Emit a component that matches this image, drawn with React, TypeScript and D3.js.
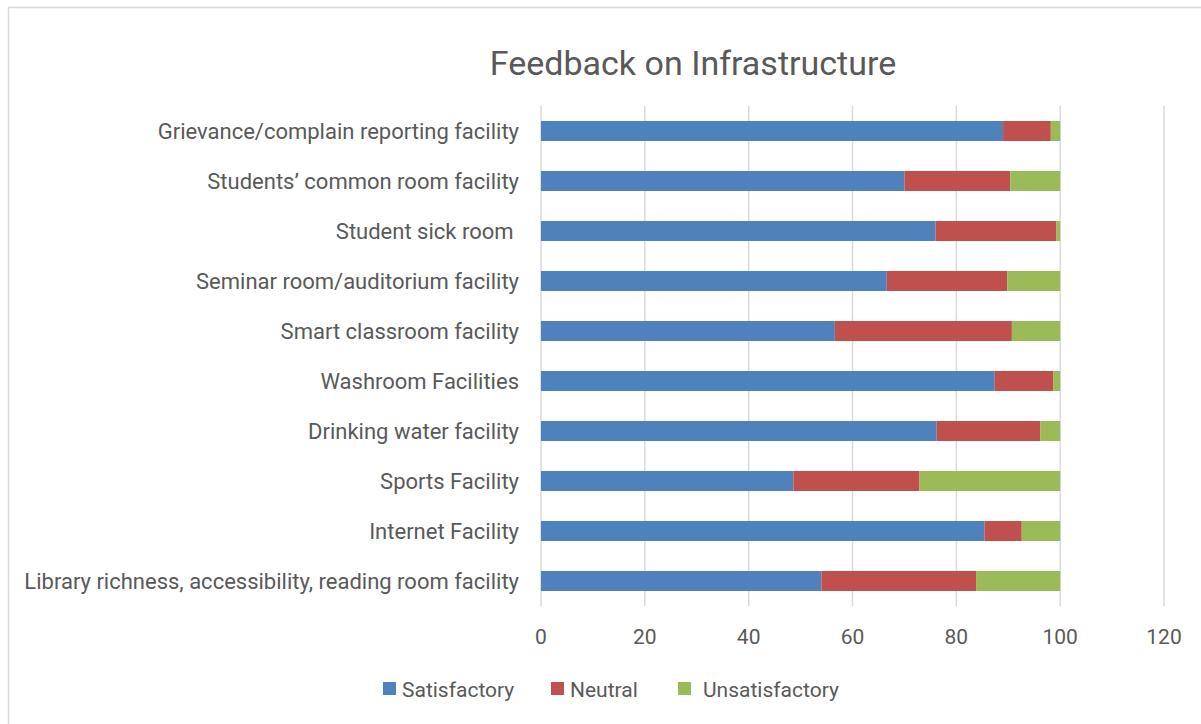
import React, { useEffect, useRef } from 'react';
import * as d3 from 'd3';

// categories top to bottom as shown
const categories = [
  'Grievance/complain reporting facility',
  'Students\u2019 common room facility',
  'Student sick room ',
  'Seminar room/auditorium facility',
  'Smart classroom facility',
  'Washroom Facilities',
  'Drinking water facility',
  'Sports Facility',
  'Internet Facility',
  'Library richness, accessibility, reading room facility',
];

const satisfactory = [89, 70, 76, 66.6, 56.6, 87.4, 76.2, 48.6, 85.4, 54];
const neutral = [9.2, 20.4, 23.3, 23.2, 34.1, 11.3, 20, 24.3, 7.2, 29.8];
const unsatisfactory = [1.8, 9.6, 0.7, 10.2, 9.3, 1.3, 3.8, 27.1, 7.4, 16.2];

const seriesNames = ['Satisfactory', 'Neutral', 'Unsatisfactory'];
const seriesColors = ['#4F81BD', '#C0504D', '#9BBB59'];
const xTicks = [0, 20, 40, 60, 80, 100, 120];

const App: React.FC = () => {
  const svgRef = useRef<SVGSVGElement>(null);

  useEffect(() => {
    if (!svgRef.current) return;

    const width = 1201;
    const height = 724;
    const font = 'Roboto, "Liberation Sans", sans-serif';
    const textColor = '#595959';

    const svg = d3.select(svgRef.current);
    svg.selectAll('*').remove();

    // chart frame
    svg.append('rect')
      .attr('x', 8.5)
      .attr('y', 7.5)
      .attr('width', width + 10)
      .attr('height', height + 10)
      .attr('fill', '#fff')
      .attr('stroke', '#d9d9d9')
      .attr('stroke-width', 1.5);

    const x = d3.scaleLinear().domain([0, 120]).range([541, 1164]);
    const y = d3.scaleBand<string>()
      .domain(categories)
      .range([106, 606])
      .paddingInner(0.6)
      .paddingOuter(0.3);

    // gridlines
    svg.append('g')
      .selectAll('line')
      .data(xTicks)
      .join('line')
      .attr('x1', d => x(d))
      .attr('x2', d => x(d))
      .attr('y1', 106)
      .attr('y2', 606)
      .attr('stroke', '#d9d9d9')
      .attr('stroke-width', 1.5);

    const rows = categories.map((c, i) => ({
      category: c,
      Satisfactory: satisfactory[i],
      Neutral: neutral[i],
      Unsatisfactory: unsatisfactory[i],
    }));
    const stacked = d3.stack<any>().keys(seriesNames)(rows);

    svg.append('g')
      .selectAll('g')
      .data(stacked)
      .join('g')
      .attr('fill', (_, i) => seriesColors[i])
      .selectAll('rect')
      .data(d => d)
      .join('rect')
      .attr('x', d => x(d[0]))
      .attr('width', d => x(d[1]) - x(d[0]))
      .attr('y', d => y(d.data.category)!)
      .attr('height', y.bandwidth());

    // category labels
    svg.append('g')
      .selectAll('text')
      .data(categories)
      .join('text')
      .attr('x', 519)
      .attr('y', d => y(d)! + y.bandwidth() / 2)
      .attr('dy', '0.36em')
      .attr('text-anchor', 'end')
      .style('white-space', 'pre')
      .attr('font-family', font)
      .attr('font-size', 22)
      .attr('fill', textColor)
      .text(d => d);

    // x tick labels
    svg.append('g')
      .selectAll('text')
      .data(xTicks)
      .join('text')
      .attr('x', d => x(d))
      .attr('y', 644)
      .attr('text-anchor', 'middle')
      .attr('font-family', font)
      .attr('font-size', 21)
      .attr('fill', textColor)
      .text(d => d);

    // title
    svg.append('text')
      .attr('x', 693)
      .attr('y', 75)
      .attr('text-anchor', 'middle')
      .attr('font-family', font)
      .attr('font-size', 34)
      .attr('fill', textColor)
      .text('Feedback on Infrastructure');

    // legend
    const legendX = [383, 551, 678];
    const legend = svg.append('g')
      .selectAll('g')
      .data(seriesNames)
      .join('g')
      .attr('transform', (_, i) => `translate(${legendX[i]}, 689)`);

    legend.append('rect')
      .attr('x', 0)
      .attr('y', -7)
      .attr('width', 13)
      .attr('height', 13)
      .attr('fill', (_, i) => seriesColors[i]);

    legend.append('text')
      .attr('x', (_, i) => (i === 2 ? 25 : 19))
      .attr('dy', '0.36em')
      .attr('font-family', font)
      .attr('font-size', 21)
      .attr('fill', textColor)
      .text(d => d);
  }, []);

  return (
    <svg
      ref={svgRef}
      width={1201}
      height={724}
      style={{ position: 'absolute', left: 0, top: 0 }}
    ></svg>
  );
};

export default App;
